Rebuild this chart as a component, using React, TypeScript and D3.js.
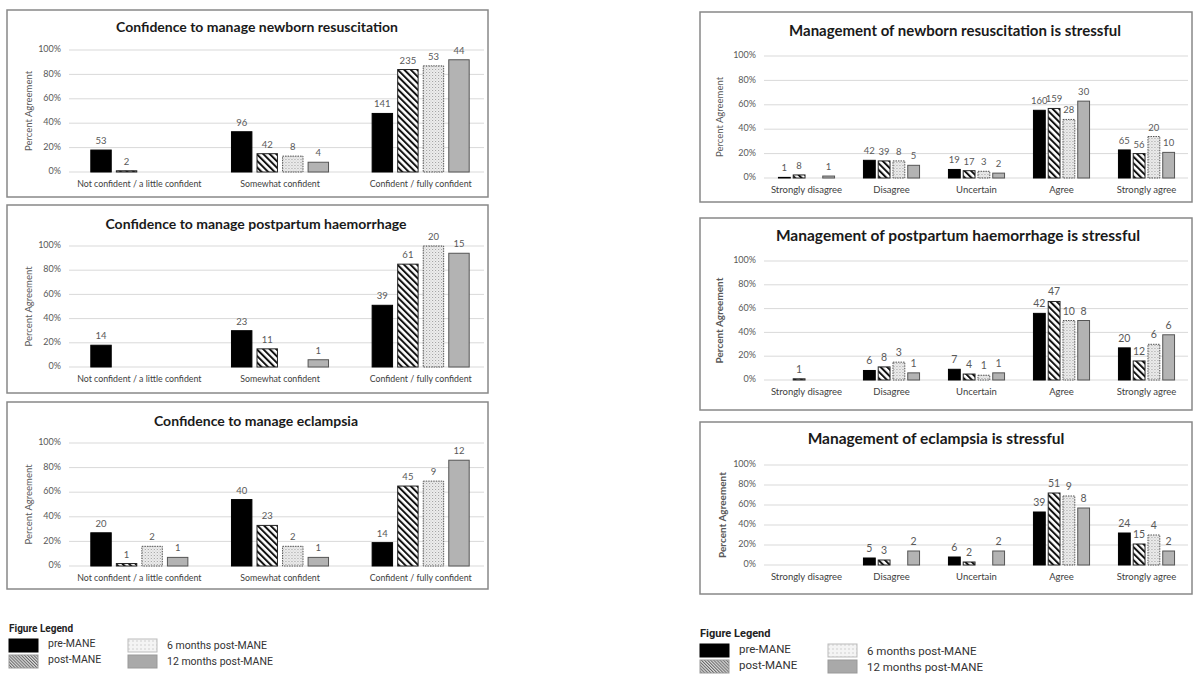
import React from "react";
import * as d3 from "d3";

// categories / series
const confCats = ["Not confident / a little confident", "Somewhat confident", "Confident / fully confident"];
const stressCats = ["Strongly disagree", "Disagree", "Uncertain", "Agree", "Strongly agree"];
const seriesNames = ["pre-MANE", "post-MANE", "6 months post-MANE", "12 months post-MANE"];
const yTicks = [0, 20, 40, 60, 80, 100];

// percent agreement, one row per category: [pre, post, 6m, 12m]
const newbornConfPct = [[18, 1, null, null], [33, 15, 13, 8], [48, 84, 87, 92]];
const newbornConfN = [[53, 2, null, null], [96, 42, 8, 4], [141, 235, 53, 44]];
const pphConfPct = [[18, null, null, null], [30, 15, null, 6], [51, 85, 100, 94]];
const pphConfN = [[14, null, null, null], [23, 11, null, 1], [39, 61, 20, 15]];
const eclConfPct = [[27, 2, 16, 7], [54, 33, 16, 7], [19, 65, 69, 86]];
const eclConfN = [[20, 1, 2, 1], [40, 23, 2, 1], [14, 45, 9, 12]];

const newbornStressPct = [[0.5, 2.5, null, 1.6], [14.5, 14, 14, 10.4], [7, 6, 5.5, 4], [55.5, 57, 48, 63], [23, 20, 34, 21]];
const newbornStressN = [[1, 8, null, 1], [42, 39, 8, 5], [19, 17, 3, 2], [160, 159, 28, 30], [65, 56, 20, 10]];
const pphStressPct = [[null, 1, null, null], [8, 11, 15, 6], [9, 5, 4, 6], [56, 66, 50, 50], [27, 16, 30, 38]];
const pphStressN = [[null, 1, null, null], [6, 8, 3, 1], [7, 4, 1, 1], [42, 47, 10, 8], [20, 12, 6, 6]];
const eclStressPct = [[null, null, null, null], [7, 5, null, 14], [8, 3, null, 14], [53, 72, 69, 57], [32, 21, 30, 14]];
const eclStressN = [[null, null, null, null], [5, 3, null, 2], [6, 2, null, 2], [39, 51, 9, 8], [24, 15, 4, 2]];

const FONT = "Lato, 'Open Sans', sans-serif";
const barFill = ["#000", "url(#hatch)", "url(#dots)", "#b3b3b3"];
const barStroke = ["#000", "#222", "#555", "#555"];

function Panel(p: any) {
	const { box, title, titleX, titleY, titleSize, xRange, yTop, yBottom, cats, pct, counts,
		groupPad, catSize, labelSize, yLabelX, yLabelBold } = p;
	const x = d3.scaleBand().domain(cats.map((d, i) => i)).range(xRange).paddingInner(groupPad).paddingOuter(groupPad / 2);
	const xi = d3.scaleBand().domain([0, 1, 2, 3]).range([0, x.bandwidth()]).paddingInner(0.2);
	const y = d3.scaleLinear().domain([0, 100]).range([yBottom, yTop]);
	return (
		<g>
			<rect x={box.x} y={box.y} width={box.w} height={box.h} fill="#fff" stroke="#888" strokeWidth={1.5} />
			<text x={titleX} y={titleY} textAnchor="middle" dominantBaseline="middle" fontFamily={FONT}
				fontWeight="bold" fontSize={titleSize} fill="#1a1a1a">{title}</text>
			{yTicks.map(t => (
				<g key={t}>
					<line x1={xRange[0]} x2={box.x + box.w - 4} y1={y(t)} y2={y(t)} stroke="#d9d9d9" strokeWidth={1} />
					<text x={xRange[0] - 8} y={y(t)} textAnchor="end" dominantBaseline="middle" fontFamily={FONT}
						fontSize={9} fill="#595959">{t + "%"}</text>
				</g>
			))}
			<text transform={`translate(${yLabelX},${(yTop + yBottom) / 2}) rotate(-90)`} textAnchor="middle"
				dominantBaseline="middle" fontFamily={FONT} fontSize={yLabelBold ? 10 : 9.5}
				fontWeight={yLabelBold ? "bold" : "normal"} fill="#595959">Percent Agreement</text>
			{cats.map((c, ci) => (
				<g key={c} transform={`translate(${x(ci)},0)`}>
					{pct[ci].map((v, si) => v == null ? null : (
						<g key={si}>
							<rect x={xi(si)} y={y(v)} width={xi.bandwidth()} height={yBottom - y(v)}
								fill={barFill[si]} stroke={barStroke[si]} strokeWidth={1}
								strokeDasharray={si === 2 ? "1.5,1" : null} />
							<text x={xi(si) + xi.bandwidth() / 2} y={y(v) - 6} textAnchor="middle" fontFamily={FONT}
								fontSize={labelSize} fill="#595959">{counts[ci][si]}</text>
						</g>
					))}
					<text x={x.bandwidth() / 2} y={yBottom + 13} textAnchor="middle" dominantBaseline="middle"
						fontFamily={FONT} fontSize={catSize} fill="#404040">{c}</text>
				</g>
			))}
		</g>
	);
}

function Legend(p: any) {
	const { x, y, size, col2 } = p;
	const sw = 29, sh = 13;
	const fills = ["#000", "url(#hatchFine)", "url(#legDots)", "#a9a9a9"];
	const strokes = ["#000", "#999", "#bbb", "#999"];
	return (
		<g fontFamily="Roboto, sans-serif">
			<text x={x} y={y} fontSize={size - 0.5} fontWeight="bold" fill="#222">Figure Legend</text>
			{seriesNames.map((s, i) => {
				const cx = i < 2 ? x : x + col2;
				const cy = y + 7 + (i % 2) * 16;
				return (
					<g key={s}>
						<rect x={cx} y={cy} width={sw} height={sh} fill={fills[i]} stroke={strokes[i]} strokeWidth={1} />
						<text x={cx + sw + 10} y={cy + sh / 2 + (i < 2 ? -1 : 1)} dominantBaseline="middle" fontSize={size}
							fill="#333">{s}</text>
					</g>
				);
			})}
		</g>
	);
}

export default function App() {
	const left = { groupPad: 0.31, catSize: 8.8, labelSize: 9.5, xRange: [69, 491], cats: confCats, yLabelX: 30 };
	const right = { groupPad: 0.34, catSize: 9.5, labelSize: 10.5, xRange: [764, 1189], cats: stressCats };
	return (
		<svg width={1196} height={678} style={{ position: "absolute", left: 0, top: 0, background: "#fff" }}>
			<defs>
				<pattern id="hatch" patternUnits="userSpaceOnUse" width={4.6} height={4.6} patternTransform="rotate(-45)">
					<rect width={4.6} height={4.6} fill="#fff" />
					<rect width={2} height={4.6} fill="#111" />
				</pattern>
				<pattern id="hatchFine" patternUnits="userSpaceOnUse" width={2.2} height={2.2} patternTransform="rotate(-45)">
					<rect width={2.2} height={2.2} fill="#ddd" />
					<rect width={1} height={2.2} fill="#666" />
				</pattern>
				<pattern id="dots" patternUnits="userSpaceOnUse" width={3} height={3}>
					<rect width={3} height={3} fill="#eeeeee" />
					<rect width={1} height={1} fill="#9a9a9a" />
					<rect x={1.5} y={1.5} width={1} height={1} fill="#bdbdbd" />
				</pattern>
				<pattern id="legDots" patternUnits="userSpaceOnUse" width={4} height={4}>
					<rect width={4} height={4} fill="#f4f4f4" />
					<rect width={2} height={2} fill="#e2e2e2" />
				</pattern>
			</defs>

			<Panel {...left} box={{ x: 7, y: 10, w: 481, h: 187 }} title="Confidence to manage newborn resuscitation"
				titleX={257} titleY={28} titleSize={14} yTop={50} yBottom={172} pct={newbornConfPct} counts={newbornConfN} />
			<Panel {...left} box={{ x: 7, y: 205, w: 481, h: 188 }} title="Confidence to manage postpartum haemorrhage"
				titleX={256} titleY={225} titleSize={14} yTop={246} yBottom={367} pct={pphConfPct} counts={pphConfN} />
			<Panel {...left} box={{ x: 7, y: 402, w: 481, h: 187 }} title="Confidence to manage eclampsia"
				titleX={256} titleY={422} titleSize={14} yTop={443} yBottom={566} pct={eclConfPct} counts={eclConfN} />

			<Panel {...right} box={{ x: 700, y: 12, w: 492, h: 190 }} title="Management of newborn resuscitation is stressful"
				titleX={955} titleY={32} titleSize={15} yTop={56} yBottom={178} yLabelX={721} labelSize={9.5}
				pct={newbornStressPct} counts={newbornStressN} />
			<Panel {...right} box={{ x: 700, y: 218, w: 492, h: 192 }} title="Management of postpartum haemorrhage is stressful"
				titleX={958} titleY={237} titleSize={15.5} yTop={261} yBottom={380} yLabelX={720} yLabelBold
				pct={pphStressPct} counts={pphStressN} />
			<Panel {...right} box={{ x: 700, y: 422, w: 492, h: 172 }} title="Management of eclampsia is stressful"
				titleX={936} titleY={440} titleSize={15.5} yTop={465} yBottom={565} yLabelX={723} yLabelBold
				pct={eclStressPct} counts={eclStressN} />

			<Legend x={9} y={632} size={10.5} col2={119} />
			<Legend x={700} y={637} size={11.5} col2={128} />
		</svg>
	);
}
